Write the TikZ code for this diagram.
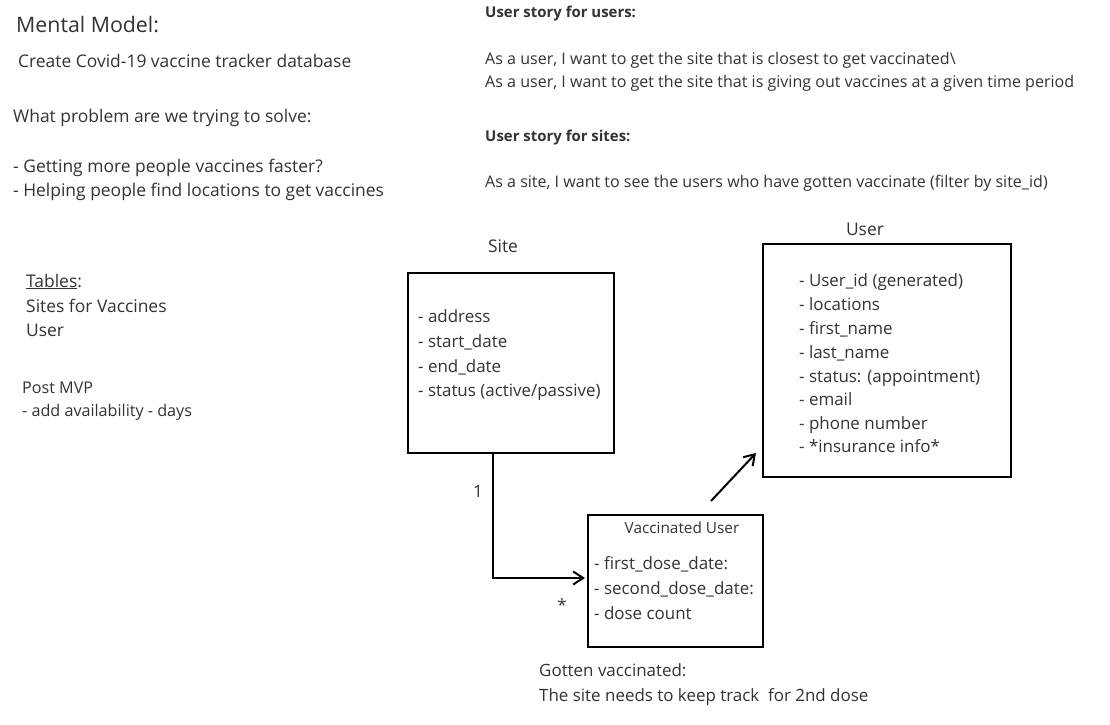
\documentclass[tikz,border=0pt]{standalone}
\usepackage{fontspec}
\setmainfont{Open Sans}
\usetikzlibrary{arrows.meta}
\definecolor{ink}{HTML}{333333}

\begin{document}
\begin{tikzpicture}[x=1bp,y=-1bp,inner sep=0pt,text=ink,
  txt/.style={anchor=base west,font=\fontsize{17.5}{20}\selectfont},
  small/.style={anchor=base west,font=\fontsize{17}{20}\selectfont},
  story/.style={anchor=base west,font=\fontsize{16.1}{19}\selectfont},
  head/.style={anchor=base west,font=\bfseries\fontsize{15}{18}\selectfont},
  box/.style={draw=black,line width=2bp,anchor=north west},
  arrow/.style={draw=black,line width=2bp,-{Straight Barb[length=10bp,width=13bp]}}]
\useasboundingbox[fill=white] (0,0) rectangle (1110,725);
% notes on the left
\node[anchor=base west,font=\fontsize{21.4}{24}\selectfont] (title) at (16,33) {Mental Model:};
\node[txt] (goal) at (18,68) {Create Covid-19 vaccine tracker database};
\node[txt] (problem) at (13,123) {What problem are we trying to solve:};
\node[txt] (prob1) at (13,173) {- Getting more people vaccines faster?};
\node[txt] (prob2) at (13,197) {- Helping people find locations to get vaccines};
\node[txt] (tables) at (26,287) {\underline{Tables}:};
\node[txt] (tab1) at (26,312) {Sites for Vaccines};
\node[txt] (tab2) at (26,336) {User};
\node[small,font=\fontsize{16.2}{19}\selectfont] (mvp) at (22,393) {Post MVP};
\node[small,font=\fontsize{16.2}{19}\selectfont] (mvp1) at (22,416) {- add availability - days};
% user stories
\node[head] (users) at (485,18) {User story for users:};
\node[story] (users1) at (485,65) {As a user, I want to get the site that is closest to get vaccinated\textbackslash};
\node[story] (users2) at (485,88) {As a user, I want to get the site that is giving out vaccines at a given time period};
\node[head] (sites) at (485,142) {User story for sites:};
\node[story] (sites1) at (485,188) {As a site, I want to see the users who have gotten vaccinate (filter by site\_id)};
% tables
\node[box,minimum width=207,minimum height=181] (site) at (407,272) {};
\node[txt,anchor=base] (sitename) at (503,252) {Site};
\node[small] (s1) at (418,322) {- address};
\node[small] (s2) at (418,347) {- start\_date};
\node[small] (s3) at (418,372) {- end\_date};
\node[small] (s4) at (418,396) {- status (active/passive)};
\node[box,minimum width=249,minimum height=234] (user) at (762,243) {};
\node[txt,anchor=base] (username) at (865,235) {User};
\node[small] (u1) at (799,286) {- User\_id (generated)};
\node[small] (u2) at (799,310) {- locations};
\node[small] (u3) at (799,334) {- first\_name};
\node[small] (u4) at (799,358) {- last\_name};
\node[small] (u5) at (799,382) {- status: (appointment)};
\node[small] (u6) at (799,405) {- email};
\node[small] (u7) at (799,429) {- phone number};
\node[small] (u8) at (799,452) {- *insurance info*};
\node[box,minimum width=176,minimum height=132] (vacc) at (587,514) {};
\node[anchor=base,font=\fontsize{15.4}{18}\selectfont] (vaccname) at (682,533) {Vaccinated User};
\node[small] (v1) at (594,569) {- first\_dose\_date:};
\node[small] (v2) at (594,594) {- second\_dose\_date:};
\node[small] (v3) at (594,619) {- dose count};
% connectors
\coordinate (siteout) at (site.south -| 493,0);
\coordinate (vaccin) at (vacc.west |- 0,578);
\draw[arrow] (siteout) |- ([xshift=-2bp]vaccin);
\node[small] (one) at (473,497) {1};
\node[small,anchor=center] (many) at (562,605) {*};
\coordinate (upfrom) at (711,501);
\coordinate (upto) at (756,453);
\draw[arrow] (upfrom) -- (upto);
% note below
\node[small] (note1) at (539,676) {Gotten vaccinated:};
\node[small] (note2) at (539,701) {The site needs to keep track\ \ for 2nd dose};
\end{tikzpicture}
\end{document}
